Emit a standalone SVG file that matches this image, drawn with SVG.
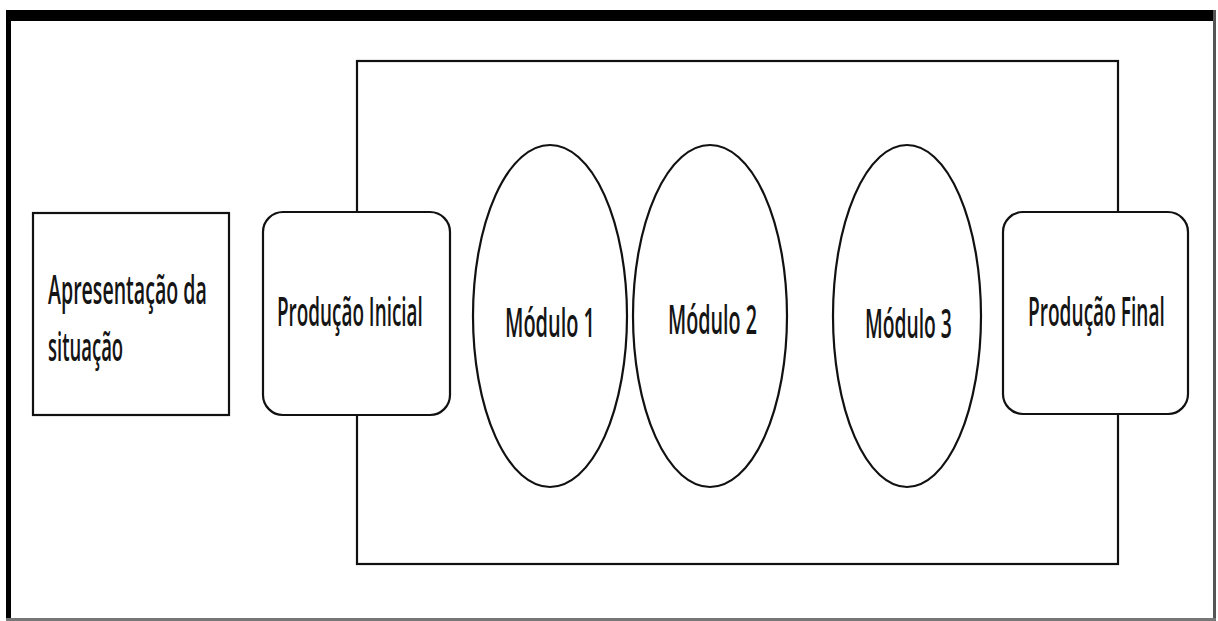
<svg xmlns="http://www.w3.org/2000/svg" width="1218" height="621" viewBox="0 0 1218 621">
<style>
.box{fill:#fff;stroke:#111;stroke-width:2.2}
.lbl{font-family:"Open Sans","Noto Sans","Liberation Sans",sans-serif;font-size:39px;font-weight:600;fill:#151515}
</style>
<rect width="1218" height="621" fill="#fff"/>
<g id="frame">
<rect x="6" y="10" width="1210" height="11" fill="#000"/>
<rect x="6" y="10" width="5" height="611" fill="#000"/>
<rect x="1213" y="10" width="3" height="611" fill="#555"/>
<rect x="6" y="618" width="1210" height="3" fill="#777"/>
</g>
<g id="container">
<rect x="357" y="61" width="761" height="503" fill="none" stroke="#111" stroke-width="2.2"/>
</g>
<g id="connectors"></g>
<g id="apresentacao">
<rect class="box" x="33" y="213" width="196" height="202"/>
<text class="lbl" transform="translate(48,304) scale(0.45,1)" textLength="353" lengthAdjust="spacingAndGlyphs">Apresentação da</text>
<text class="lbl" transform="translate(48,361) scale(0.45,1)" textLength="167" lengthAdjust="spacingAndGlyphs">situação</text>
</g>
<g id="producao-inicial">
<rect class="box" x="263" y="212" width="187" height="203" rx="20" ry="20" stroke-width="2.6"/>
<text class="lbl" transform="translate(277,326) scale(0.45,1)" textLength="324" lengthAdjust="spacingAndGlyphs">Produção Inicial</text>
</g>
<g id="modulo1">
<ellipse class="box" cx="550" cy="316" rx="77" ry="171"/>
<text class="lbl" transform="translate(505,337) scale(0.45,1)" textLength="200" lengthAdjust="spacingAndGlyphs">Módulo 1</text>
</g>
<g id="modulo2">
<ellipse class="box" cx="710" cy="316" rx="77" ry="171"/>
<text class="lbl" transform="translate(668,334) scale(0.45,1)" textLength="198" lengthAdjust="spacingAndGlyphs">Módulo 2</text>
</g>
<g id="modulo3">
<ellipse class="box" cx="907" cy="316" rx="74" ry="171"/>
<text class="lbl" transform="translate(865,338) scale(0.45,1)" textLength="193" lengthAdjust="spacingAndGlyphs">Módulo 3</text>
</g>
<g id="producao-final">
<rect class="box" x="1003" y="212" width="185" height="202" rx="20" ry="20" stroke-width="2.6"/>
<text class="lbl" transform="translate(1028,326) scale(0.45,1)" textLength="304" lengthAdjust="spacingAndGlyphs">Produção Final</text>
</g>
</svg>
